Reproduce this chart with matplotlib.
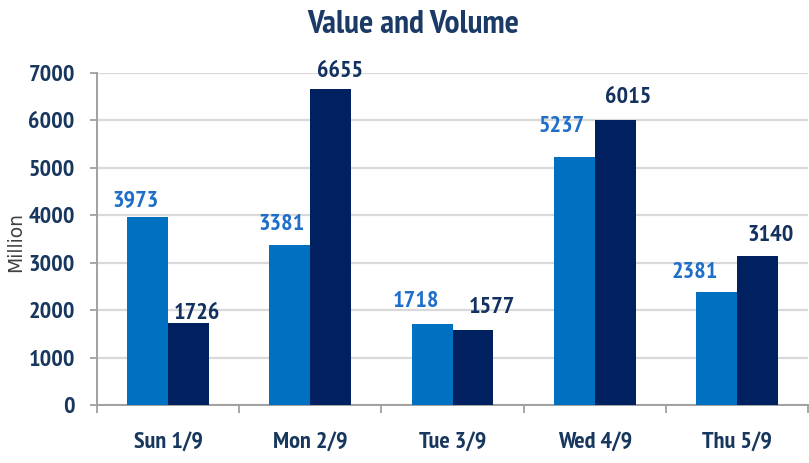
import matplotlib
matplotlib.use("Agg")
import matplotlib.pyplot as plt
import numpy as np

categories = ["Sun 1/9", "Mon 2/9", "Tue 3/9", "Wed 4/9", "Thu 5/9"]
value = [3973, 3381, 1718, 5237, 2381]
volume = [1726, 6655, 1577, 6015, 3140]
yticks = [0, 1000, 2000, 3000, 4000, 5000, 6000, 7000]

# label placement tweaks (pixels): horizontal shift and gap above bar
value_dx = [-12, -8, -16, -12, -22]
value_gap = [10, 15, 17, 25, 14]
volume_dx = [8, 9, 19, 13, 13]
volume_gap = [4, 12, 17, 17, 15]

plt.rcParams['font.family'] = ['PT Sans Narrow', 'DejaVu Sans']

c_light = "#0070C0"
c_dark = "#002060"
c_text = "#17375E"
c_lab_light = "#1F6FC9"
c_lab_dark = "#13315E"

W, H = 809, 463
fig = plt.figure(figsize=(W / 100, H / 100), dpi=100)
ax = fig.add_axes([97 / W, (H - 405) / H, (808 - 97) / W, (405 - 73) / H])

x = np.arange(len(categories))
bw = 0.288
ax.bar(x - bw / 2, value, width=bw, color=c_light, zorder=3)
ax.bar(x + bw / 2, volume, width=bw, color=c_dark, zorder=3)

for i in range(len(categories)):
    ax.annotate(str(value[i]), xy=(x[i] - bw / 2, value[i]),
                xytext=(value_dx[i], value_gap[i]), textcoords="offset pixels",
                ha="center", va="baseline", fontsize=17.5, fontweight="bold",
                color=c_lab_light, zorder=4)
    ax.annotate(str(volume[i]), xy=(x[i] + bw / 2, volume[i]),
                xytext=(volume_dx[i], volume_gap[i]), textcoords="offset pixels",
                ha="center", va="baseline", fontsize=17.5, fontweight="bold",
                color=c_lab_dark, zorder=4)

ax.set_xlim(-0.5, len(categories) - 0.5)
ax.set_ylim(0, 7000)
ax.set_yticks(yticks)
ax.set_yticklabels([str(t) for t in yticks], fontsize=17.5, fontweight="bold", color=c_text)
ax.set_xticks(x)
ax.set_xticklabels(categories, fontsize=17.5, fontweight="bold", color=c_text)
ax.set_xticks(np.arange(-0.5, len(categories)), minor=True)
ax.tick_params(axis="x", which="major", length=0, pad=19)
ax.tick_params(axis="x", which="minor", length=6, width=1.3, color="#A0A0A0", direction="out")
ax.tick_params(axis="y", which="major", length=5, width=1.3, color="#A0A0A0", direction="out", pad=11)

ax.yaxis.grid(True, color="#D9D9D9", linewidth=1.6, zorder=0)
ax.set_axisbelow(True)
for s in ["top", "right"]:
    ax.spines[s].set_visible(False)
for s in ["left", "bottom"]:
    ax.spines[s].set_color("#A0A0A0")
    ax.spines[s].set_linewidth(1.4)

fig.text(413 / W, 1 - 33 / H, "Value and Volume", ha="center", va="baseline",
         fontsize=24, fontweight="bold", color="#1B3A66")
fig.text(16 / W, 1 - 242 / H, "Million", rotation=90, ha="center", va="center",
         fontsize=13.5, color="#404040", family="DejaVu Sans")

fig.savefig("out.png", dpi=100)
